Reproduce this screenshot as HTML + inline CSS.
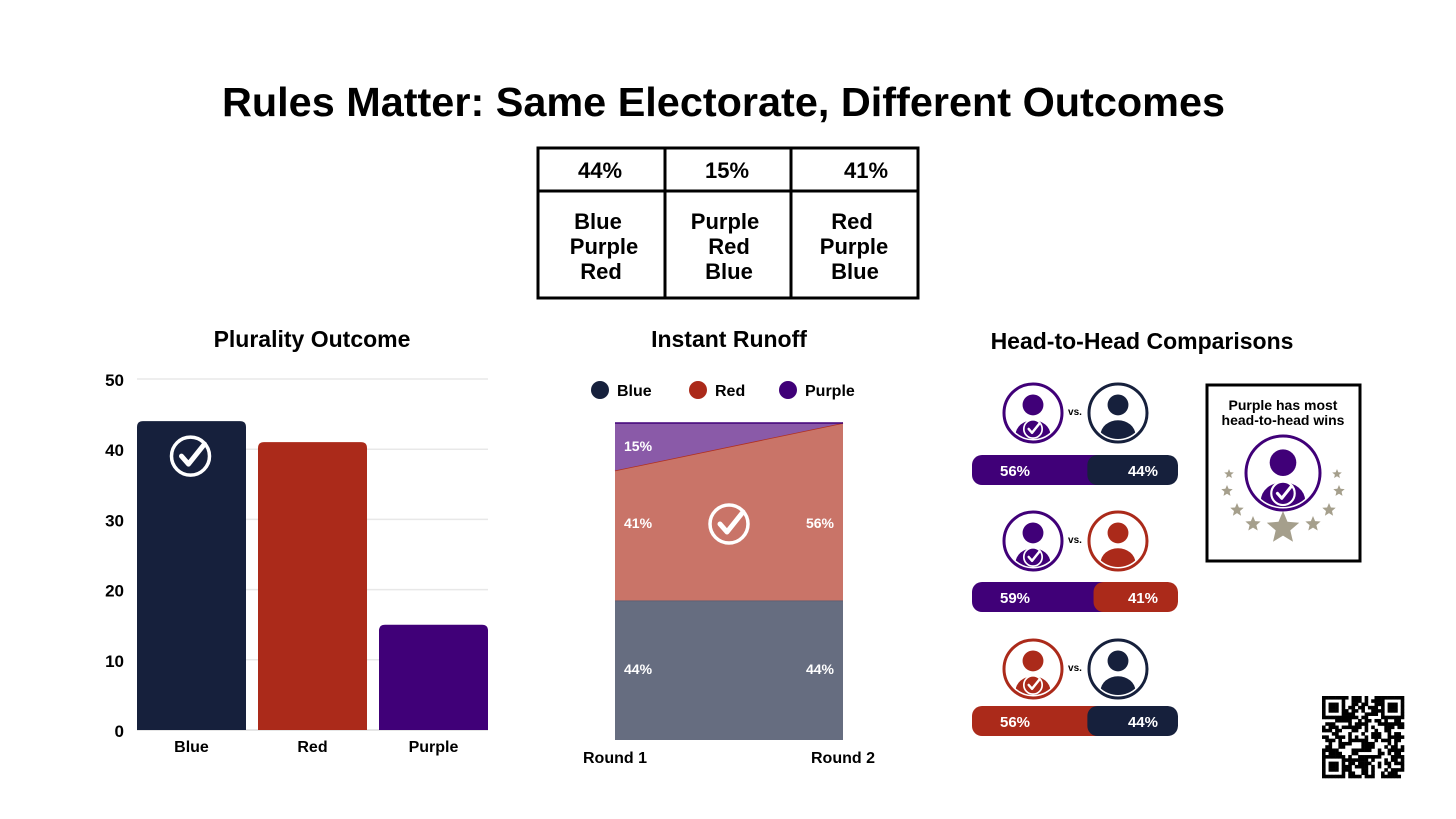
<!DOCTYPE html>
<html><head><meta charset="utf-8"><style>
body{margin:0;background:#fff;width:1456px;height:819px;overflow:hidden}
svg{display:block;font-family:"Liberation Sans",Arial,sans-serif;font-weight:bold}
</style></head><body>
<svg id="root" width="1456" height="819" viewBox="0 0 1456 819">
<defs>
<g id="check"><circle r="19" fill="none" stroke="#fff" stroke-width="3.5"/><path d="M-9,0 L-2,8 L14,-12" fill="none" stroke="#fff" stroke-width="5" stroke-linecap="round" stroke-linejoin="round"/></g>
</defs>
<text x="222" y="116" textLength="1003" lengthAdjust="spacingAndGlyphs" font-size="41" fill="#000">Rules Matter: Same Electorate, Different Outcomes</text>

<g stroke="#000" stroke-width="3" fill="none">
<rect x="538" y="148" width="380" height="150"/>
<line x1="538" y1="191" x2="918" y2="191"/><line x1="665" y1="148" x2="665" y2="298"/><line x1="791" y1="148" x2="791" y2="298"/>
</g>
<g font-size="22" text-anchor="middle" fill="#000">
<text x="600" y="178">44%</text><text x="727" y="178">15%</text><text x="866" y="178">41%</text>
<text x="598" y="229">Blue</text><text x="604" y="254">Purple</text><text x="601" y="279">Red</text>
<text x="725" y="229">Purple</text><text x="729" y="254">Red</text><text x="729" y="279">Blue</text>
<text x="852" y="229">Red</text><text x="854" y="254">Purple</text><text x="855" y="279">Blue</text>
</g>

<text x="312" y="347" text-anchor="middle" font-size="23">Plurality Outcome</text>
<g id="bars"></g>

<text x="729" y="347" text-anchor="middle" font-size="23">Instant Runoff</text>
<g id="runoff"></g>

<text x="1142" y="349" text-anchor="middle" font-size="23">Head-to-Head Comparisons</text>
<g id="h2h"></g>

<g>
<rect x="1207" y="385" width="153" height="176" fill="none" stroke="#000" stroke-width="3"/>
<text x="1283" y="410" text-anchor="middle" font-size="14">Purple has most</text>
<text x="1283" y="425" text-anchor="middle" font-size="14">head-to-head wins</text>
</g>
<g id="qr"></g>
</svg>
<script>
const NS="http://www.w3.org/2000/svg";
function mk(p,t,a,txt){const e=document.createElementNS(NS,t);for(const k in a)e.setAttribute(k,a[k]);if(txt!==undefined)e.textContent=txt;p.appendChild(e);return e;}
const C={Blue:"#16203c",Red:"#ab2a1a",Purple:"#400078"};

// Plurality
const pCats=["Blue","Red","Purple"];
const pVals=[44,41,15];
const pTicks=[0,10,20,30,40,50];
(function(){
 const g=document.getElementById('bars');
 const y=v=>730-v*7.02, x0=137, step=121, bw=109;
 pTicks.forEach(t=>{
  const l=mk(g,'line',{x1:137,x2:488,y1:y(t),y2:y(t),stroke:t?'#e8e8e8':'#ddd','stroke-width':1.5});
  
  const tx=mk(g,'text',{x:124,y:y(t)+7,'text-anchor':'end','font-size':17},t);
  
 });
 pCats.forEach((c,i)=>{
  const bx=x0+i*step, top=y(pVals[i]);
  const b=mk(g,'path',{d:`M${bx},730 V${top+6} Q${bx},${top} ${bx+6},${top} H${bx+bw-6} Q${bx+bw},${top} ${bx+bw},${top+6} V730 Z`,fill:C[c]});
  
  const t=mk(g,'text',{x:bx+bw/2,y:752,'text-anchor':'middle','font-size':16},c);
  
 });
 const ci=pVals.indexOf(Math.max(...pVals));
 const u=mk(g,'use',{href:'#check',x:x0+ci*step+bw/2-1,y:y(pVals[ci])+35});
 
})();

// Runoff
const rRounds=["Round 1","Round 2"];
const rBlue=[44,44];
const rRed=[41,56];
const rPurple=[15,0];
(function(){
 const g=document.getElementById('runoff');
 const X=[615,843], y=v=>740-v*3.17;
 [["Blue",C.Blue,600],["Red",C.Red,698],["Purple",C.Purple,788]].forEach(([n,c,x])=>{
  const d=mk(g,'circle',{cx:x,cy:390,r:9,fill:c});
  const t=mk(g,'text',{x:x+17,y:396,'font-size':16},n);
 });
 const layers=[[rBlue,"#666d80"],[rRed,"#c97468"],[rPurple,"#8a5aa8"]];
 let base=[0,0];
 layers.forEach(([v,col],k)=>{
  const top=[base[0]+v[0],base[1]+v[1]];
  const a=mk(g,'polygon',{points:`${X[0]},${y(base[0])} ${X[1]},${y(base[1])} ${X[1]},${y(top[1])} ${X[0]},${y(top[0])}`,fill:col});
  
  const ln=mk(g,'line',{x1:X[0],y1:y(top[0]),x2:X[1],y2:y(top[1]),stroke:['#555c70','#b03020','#400078'][k],'stroke-width':1.5});
  
  [0,1].forEach(i=>{ if(v[i]>0){
   const t=mk(g,'text',{x:i?834:624,y:y(base[i]+v[i]/2)+5,'text-anchor':i?'end':'start','font-size':14,fill:'#fff'},v[i]+'%');
   if(k==1) t.setAttribute('y',528);
   if(k==0) t.setAttribute('y',674);
   if(k==2) t.setAttribute('y',451);
   
  }});
  base=top;
 });
 const u=mk(g,'use',{href:'#check',x:729,y:524});
 rRounds.forEach((r,i)=>{const t=mk(g,'text',{x:i?843:615,y:763,'text-anchor':'middle','font-size':16},r);});
})();

// Head to head
const hLeft=["Purple","Purple","Red"];
const hRight=["Blue","Red","Blue"];
const hLeftPct=[56,59,56];
const hRightPct=[44,41,44];
function person(g,cx,cy,r,col,check){
 const id='c'+Math.round(cx)+'_'+Math.round(cy);
 const cp=mk(g,'clipPath',{id});mk(cp,'circle',{cx,cy,r:r-3});
 mk(g,'circle',{cx,cy,r,fill:'#fff',stroke:col,'stroke-width':3});
 mk(g,'circle',{cx,cy:cy-r*0.28,r:r*0.36,fill:col});
 mk(g,'ellipse',{cx,cy:cy+r*0.75,rx:r*0.6,ry:r*0.5,fill:col,'clip-path':`url(#${id})`});
 if(check){mk(g,'use',{href:'#check',transform:`translate(${cx},${cy+r*0.55}) scale(${r/60})`});}
}
(function(){
 const g=document.getElementById('h2h');
 const rowsY=[413,541,669], barY=[455,582,706];
 hLeft.forEach((l,i)=>{
  const r=mk(g,'g',{});
  person(r,1033,rowsY[i],29,C[l],true);
  person(r,1118,rowsY[i],29,C[hRight[i]],false);
  mk(r,'text',{x:1075,y:rowsY[i]+2,'text-anchor':'middle','font-size':10},'vs.');
  const W=206,x0=972,split=x0+W*hLeftPct[i]/(hLeftPct[i]+hRightPct[i]);
  const cid='bc'+i;const cp=mk(r,'clipPath',{id:cid});mk(cp,'rect',{x:x0,y:barY[i],width:W,height:30,rx:10});
  const a=mk(r,'rect',{x:x0,y:barY[i],width:split-x0+10,height:30,fill:C[l],'clip-path':`url(#${cid})`});
  
  const b=mk(r,'rect',{x:split,y:barY[i],width:x0+W-split,height:30,rx:10,fill:C[hRight[i]],'clip-path':`url(#${cid})`});
  
  mk(r,'text',{x:1000,y:barY[i]+21,'font-size':15,fill:'#fff'},hLeftPct[i]+'%');
  mk(r,'text',{x:1158,y:barY[i]+21,'font-size':15,fill:'#fff','text-anchor':'end'},hRightPct[i]+'%');
 });
 const s=document.getElementById('root');
 const bg=mk(s,'g',{});
 person(bg,1283,473,37,C.Purple,true);
 function star(cx,cy,R){let p=[];for(let k=0;k<10;k++){const a=-Math.PI/2+k*Math.PI/5,rr=k%2?R*0.45:R;p.push((cx+rr*Math.cos(a)).toFixed(1)+','+(cy+rr*Math.sin(a)).toFixed(1));}mk(bg,'polygon',{points:p.join(' '),fill:'#a59f8c'});}
 star(1283,528,17);
 [[1253,524,8],[1313,524,8],[1237,510,7],[1329,510,7],[1227,491,6],[1339,491,6],[1229,474,5],[1337,474,5]].forEach(a=>star(...a));
})();
// QR approximation (decorative)
(function(){
 const g=document.getElementById('qr');const x0=1322,y0=696,n=25,c=82/n;
 let s=7;const rnd=()=>{s=(s*9301+49297)%233280;return s/233280;};
 for(let i=0;i<n;i++)for(let j=0;j<n;j++){
  const f=(a,b)=>a<7&&b<7;
  let on;
  const inF=f(i,j)||f(n-1-i,j)||f(i,n-1-j);
  if(inF){const ii=i<7?i:n-1-i,jj=j<7?j:n-1-j;const d=Math.max(Math.abs(ii-3),Math.abs(jj-3));on=d!=2;}
  else on=rnd()<0.5;
  if(on)mk(g,'rect',{x:x0+j*c,y:y0+i*c,width:c+0.3,height:c+0.3,fill:'#000'});
 }
})();
</script>
</body></html>
